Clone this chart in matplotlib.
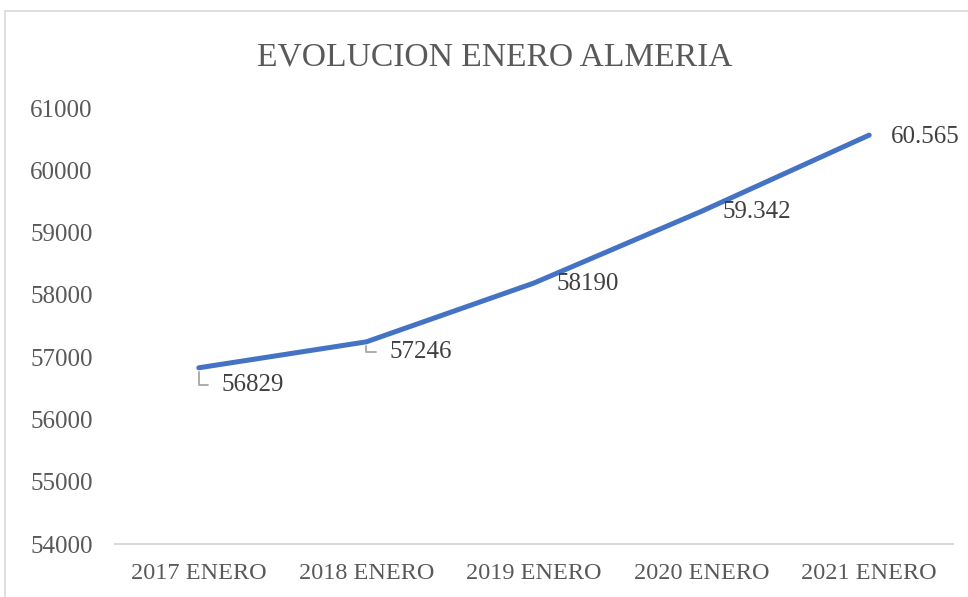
import matplotlib
matplotlib.use("Agg")
import matplotlib.pyplot as plt
from matplotlib.patches import Rectangle

# data
categories = ["2017 ENERO", "2018 ENERO", "2019 ENERO", "2020 ENERO", "2021 ENERO"]
values = [56829, 57246, 58190, 59342, 60565]
labels = ["56829", "57246", "58190", "59.342", "60.565"]
yticks = [54000, 55000, 56000, 57000, 58000, 59000, 60000, 61000]

plt.rcParams['font.family'] = ['Liberation Serif', 'DejaVu Serif']

fig = plt.figure(figsize=(9.68, 5.97), dpi=100)
ax = fig.add_axes([115/968, 1 - 544/597, 838/968, 436/597])

x = list(range(len(categories)))
ax.plot(x, values, color="#4472C4", linewidth=3.6, solid_capstyle="round", zorder=3)

ax.set_xlim(-0.5, len(categories) - 0.5)
ax.set_ylim(54000, 61000)
ax.set_yticks(yticks)
ax.set_yticklabels([str(t) for t in yticks])
ax.set_xticks(x)
ax.set_xticklabels(categories)
ax.tick_params(axis="y", length=0, pad=16, labelsize=18, labelcolor="#595959")
ax.tick_params(axis="x", length=0, pad=14, labelsize=17.5, labelcolor="#595959")

for s in ["top", "right", "left"]:
    ax.spines[s].set_visible(False)
ax.spines["bottom"].set_color("#D9D9D9")
ax.spines["bottom"].set_linewidth(1.5)

# data labels (offsets in pixels), leader lines on the first two
offsets = [(23, -17), (23, -10), (22, -1), (21, -1), (22, -2)]
leaders = [True, True, False, False, False]
for xi, v, lab, off, lead in zip(x, values, labels, offsets, leaders):
    kw = {}
    if lead:
        kw["arrowprops"] = dict(arrowstyle="-", color="#A6A6A6", lw=1.3,
                                connectionstyle="angle,angleA=0,angleB=90,rad=0",
                                relpos=(0, 0.5), shrinkA=8, shrinkB=3)
    ax.annotate(lab, xy=(xi, v), xytext=off, textcoords="offset pixels",
                ha="left", va="center", fontsize=18, color="#404040", **kw)

fig.text(495/968, 1 - 57/597, "EVOLUCION ENERO ALMERIA", ha="center", va="center",
         fontsize=24.2, color="#595959")

# chart area border
fig.patches.append(Rectangle((5/968, -0.5), 2, 0.5 + (597 - 11)/597,
                             transform=fig.transFigure, fill=False,
                             edgecolor="#D9D9D9", linewidth=1.2))

fig.savefig("out.png", dpi=100)
